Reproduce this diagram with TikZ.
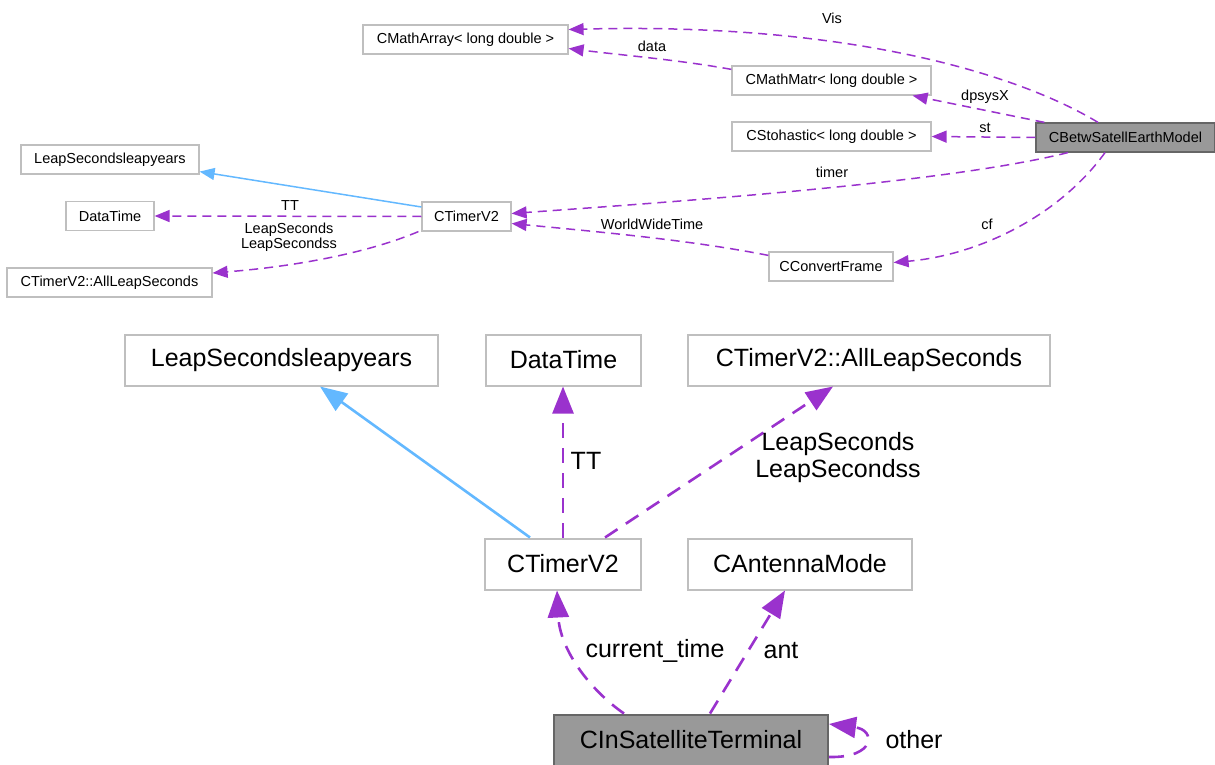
\documentclass[tikz,border=0pt]{standalone}
\usepackage{fontspec}
\setmainfont{Liberation Sans}
\usetikzlibrary{arrows.meta}
\definecolor{usecol}{HTML}{9A32CD}
\definecolor{inhcol}{HTML}{63B8FF}
\definecolor{boxline}{HTML}{BFBFBF}
\definecolor{rootfill}{HTML}{999999}
\definecolor{rootline}{HTML}{666666}
\tikzset{
  smallbox/.style={draw=boxline, line width=1.2pt, fill=white, inner sep=0pt,
    minimum height=29pt, font=\fontsize{14.5}{16}\selectfont},
  smallroot/.style={smallbox, draw=rootline, fill=rootfill},
  bigbox/.style={draw=boxline, line width=2pt, fill=white, inner sep=0pt,
    minimum height=51pt, font=\fontsize{25}{27}\selectfont},
  bigroot/.style={bigbox, draw=rootline, fill=rootfill},
  smalluse/.style={draw=usecol, line width=1.5pt, dash pattern=on 9pt off 6pt,
    -{Triangle[length=15pt,width=12pt]}},
  biguse/.style={draw=usecol, line width=2.6pt, dash pattern=on 15pt off 10pt,
    -{Triangle[length=27pt,width=21pt]}},
  smallinh/.style={draw=inhcol, line width=1.5pt, -{Triangle[length=15pt,width=12pt]}},
  biginh/.style={draw=inhcol, line width=2.6pt, -{Triangle[length=27pt,width=21pt]}},
  smalllbl/.style={inner sep=0pt, align=center, font=\fontsize{14.5}{15.5}\selectfont},
  biglbl/.style={inner sep=0pt, align=center, font=\fontsize{25}{27}\selectfont},
}
\begin{document}
\begin{tikzpicture}[x=1pt,y=-1pt]
\useasboundingbox (0,0) rectangle (1215,765);

% ---------- collaboration graph of CBetwSatellEarthModel ----------
\node[smallbox, minimum width=205pt] (mathArr) at (465.5,39.5) {CMathArray< long double >};
\node[smallbox, minimum width=199pt] (mathMatr) at (831.5,80.5) {CMathMatr< long double >};
\node[smallbox, minimum width=199pt] (stoh) at (831.5,136.5) {CStohastic< long double >};
\node[smallroot, minimum width=179pt] (betw) at (1125.5,137.5) {CBetwSatellEarthModel};
\node[smallbox, minimum width=178pt] (lslyT) at (110,159.5) {LeapSecondsleapyears};
\node[smallbox, minimum width=88pt] (dtT) at (110,216) {DataTime};
\node[smallbox, minimum width=89pt] (timerT) at (466.5,216.5) {CTimerV2};
\node[smallbox, minimum width=205pt] (allT) at (109.5,282.5) {CTimerV2::AllLeapSeconds};
\node[smallbox, minimum width=124pt] (conv) at (831,266.5) {CConvertFrame};

\draw[smalluse] ([xshift=-27.5pt]betw.north) .. controls (1020,75) and (850,22) .. ([yshift=10pt]mathArr.east);
\draw[smalluse] ([yshift=-4pt]mathMatr.north west) .. controls (680,60) and (620,55) .. ([yshift=-9pt]mathArr.east);
\draw[smalluse] ([xshift=9pt]betw.north west) -- ([xshift=-19pt]mathMatr.south east);
\draw[smalluse] (betw.west) -- (stoh.east);
\draw[smalluse] ([xshift=-57.5pt]betw.south) .. controls (950,182) and (700,200) .. ([yshift=3pt]timerT.east);
\draw[smalluse] ([xshift=-20.5pt]betw.south) .. controls (1060,215) and (980,255) .. ([yshift=4pt]conv.east);
\draw[smalluse] ([yshift=-4pt]conv.north west) .. controls (690,240) and (600,232) .. ([yshift=-7pt]timerT.east);
\draw[smallinh] ([yshift=9.5pt]timerT.west) -- ([yshift=3pt]lslyT.south east);
\draw[smalluse] (timerT.west) -- (dtT.east);
\draw[smalluse] ([xshift=-3pt]timerT.south west) .. controls (370,252) and (300,266) .. ([yshift=9.5pt]allT.east);

\node[smalllbl] (lVis) at (832,18) {Vis};
\node[smalllbl] (lData) at (652,46) {data};
\node[smalllbl] (lDps) at (985,97) {dpsysX};
\node[smalllbl] (lSt) at (985,128) {st};
\node[smalllbl] (lTimer) at (832,172) {timer};
\node[smalllbl] (lCf) at (987,224) {cf};
\node[smalllbl] (lWwt) at (652,224) {WorldWideTime};
\node[smalllbl] (lTTT) at (290,206) {TT};
\node[smalllbl] (lLeapT) at (289,237) {LeapSeconds\\LeapSecondss};

% ---------- collaboration graph of CInSatelliteTerminal ----------
\node[bigbox, minimum width=313pt] (lslyB) at (281.5,360) {LeapSecondsleapyears};
\node[bigbox, minimum width=155pt] (dtB) at (563.5,360) {DataTime};
\node[bigbox, minimum width=362pt] (allB) at (869,360) {CTimerV2::AllLeapSeconds};
\node[bigbox, minimum width=156pt] (timerB) at (563,564) {CTimerV2};
\node[bigbox, minimum width=224pt] (antB) at (800,564) {CAntennaMode};
\node[bigroot, minimum width=274pt] (inSat) at (691,740) {CInSatelliteTerminal};

\draw[biginh] ([xshift=-33pt]timerB.north) -- ([xshift=38.5pt]lslyB.south);
\draw[biguse] (timerB.north) -- (timerB.north |- dtB.south);
\draw[biguse] ([xshift=42pt]timerB.north) -- ([xshift=-36pt]allB.south);
\draw[biguse] ([xshift=-67pt]inSat.north) .. controls (590,690) and (560,650) .. ([xshift=-6pt]timerB.south);
\draw[biguse] ([xshift=19pt]inSat.north) -- ([xshift=-15pt]antB.south);
\draw[biguse] ([yshift=-17pt]inSat.east) .. controls (876,758) and (876,730) .. ([yshift=16pt]inSat.east);

\node[biglbl] (lTTB) at (586,461) {TT};
\node[biglbl] (lLeapB) at (838,458) {LeapSeconds\\LeapSecondss};
\node[biglbl] (lCur) at (655,651) {current\_time};
\node[biglbl] (lAnt) at (781,651) {ant};
\node[biglbl] (lOther) at (914,740) {other};
\end{tikzpicture}
\end{document}
